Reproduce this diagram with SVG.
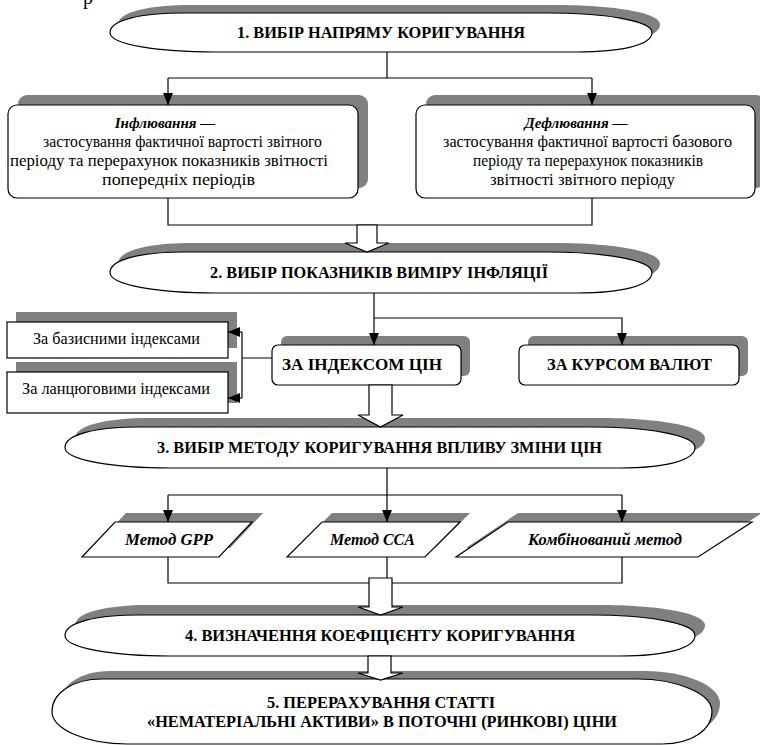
<svg xmlns="http://www.w3.org/2000/svg" width="760" height="745" viewBox="0 0 760 745" font-family="Liberation Serif, DejaVu Serif, serif">
<defs>
<style>
.sh{fill:#808080;stroke:none}
.nd{fill:#fff;stroke:#000;stroke-width:1.2}
.ln{fill:none;stroke:#000;stroke-width:1.2}
.ba{fill:#fff;stroke:#000;stroke-width:1.2}
.t{fill:#000;text-anchor:middle}
.b{font-weight:bold;font-size:16px}
.bb{font-weight:bold;font-size:17px}
.r{font-size:16px}
.bi{font-weight:bold;font-style:italic;font-size:16px}
.bh{font-weight:bold;font-style:italic;font-size:15px}
</style>
<marker id="ah" markerUnits="userSpaceOnUse" markerWidth="12" markerHeight="10" refX="12" refY="5" orient="auto">
<path d="M0,0 L12,5 L0,10 Z" fill="#000"/>
</marker>
</defs>
<rect width="760" height="745" fill="#fff"/>
<text class="t" x="88" y="4" font-size="20">р</text>

<g id="n1">
<path class="sh" transform="translate(8,-8)" d="M110,32.5 C110,20 140,13 185,13 L547,13 C602,13 652,20 652,32.5 C652,45 622,52 577,52 L215,52 C160,52 110,45 110,32.5 Z"/>
<path class="nd" d="M110,32.5 C110,20 140,13 185,13 L547,13 C602,13 652,20 652,32.5 C652,45 622,52 577,52 L215,52 C160,52 110,45 110,32.5 Z"/>
<text class="t b" x="381" y="38" textLength="288" lengthAdjust="spacingAndGlyphs">1. ВИБІР НАПРЯМУ КОРИГУВАННЯ</text>
</g>

<g id="n_infl">
<rect class="sh" x="18" y="95" width="350" height="93" rx="9"/>
<rect class="nd" x="8" y="105" width="350" height="93" rx="9"/>
<text class="t bh" x="165" y="128">Інфлювання —</text>
<text class="t r" x="182.5" y="147" textLength="279" lengthAdjust="spacingAndGlyphs">застосування фактичної вартості звітного</text>
<text class="t r" x="169" y="166" textLength="318" lengthAdjust="spacingAndGlyphs">періоду та перерахунок показників звітності</text>
<text class="t r" x="178.5" y="185" textLength="153" lengthAdjust="spacingAndGlyphs">попередніх періодів</text>
</g>

<g id="n_defl">
<rect class="sh" x="426" y="95" width="339" height="93" rx="9"/>
<rect class="nd" x="416" y="105" width="339" height="93" rx="9"/>
<text class="t bh" x="576" y="128">Дефлювання —</text>
<text class="t r" x="587.5" y="147" textLength="289" lengthAdjust="spacingAndGlyphs">застосування фактичної вартості базового</text>
<text class="t r" x="588" y="166" textLength="230" lengthAdjust="spacingAndGlyphs">періоду та перерахунок показників</text>
<text class="t r" x="582.5" y="185" textLength="185" lengthAdjust="spacingAndGlyphs">звітності звітного періоду</text>
</g>

<g id="n2">
<path class="sh" transform="translate(8,-9)" d="M110,272.5 C110,259.5 140,252 185,252 L547,252 C602,252 652,259.5 652,272.5 C652,285.5 622,293 577,293 L215,293 C160,293 110,285.5 110,272.5 Z"/>
<path class="nd" d="M110,272.5 C110,259.5 140,252 185,252 L547,252 C602,252 652,259.5 652,272.5 C652,285.5 622,293 577,293 L215,293 C160,293 110,285.5 110,272.5 Z"/>
<text class="t b" x="379" y="278" textLength="338" lengthAdjust="spacingAndGlyphs">2. ВИБІР ПОКАЗНИКІВ ВИМІРУ ІНФЛЯЦІЇ</text>
</g>

<g id="n_base">
<rect class="sh" x="16" y="312" width="221" height="36"/>
<rect class="nd" x="7" y="322" width="221" height="36"/>
<text class="t r" x="116.5" y="344" textLength="167" lengthAdjust="spacingAndGlyphs">За базисними індексами</text>
</g>

<g id="n_chain">
<rect class="sh" x="16" y="362" width="221" height="41"/>
<rect class="nd" x="7" y="372" width="221" height="41"/>
<text class="t r" x="116" y="394" textLength="188" lengthAdjust="spacingAndGlyphs">За ланцюговими індексами</text>
</g>

<g id="n_price">
<rect class="sh" x="281" y="336" width="189" height="40" rx="6"/>
<rect class="nd" x="272" y="345" width="189" height="40" rx="6"/>
<text class="t bb" x="362" y="370" textLength="160" lengthAdjust="spacingAndGlyphs">ЗА ІНДЕКСОМ ЦІН</text>
</g>

<g id="n_curr">
<rect class="sh" x="528" y="336" width="220" height="40" rx="6"/>
<rect class="nd" x="519" y="345" width="220" height="40" rx="6"/>
<text class="t bb" x="629.5" y="370" textLength="165" lengthAdjust="spacingAndGlyphs">ЗА КУРСОМ ВАЛЮТ</text>
</g>

<g id="n3">
<path class="sh" transform="translate(10,-9)" d="M65,447.5 C65,434.5 95,427 140,427 L590,427 C645,427 695,434.5 695,447.5 C695,460.5 665,468 620,468 L170,468 C115,468 65,460.5 65,447.5 Z"/>
<path class="nd" d="M65,447.5 C65,434.5 95,427 140,427 L590,427 C645,427 695,434.5 695,447.5 C695,460.5 665,468 620,468 L170,468 C115,468 65,460.5 65,447.5 Z"/>
<text class="t b" x="379.5" y="453" textLength="445" lengthAdjust="spacingAndGlyphs">3. ВИБІР МЕТОДУ КОРИГУВАННЯ ВПЛИВУ ЗМІНИ ЦІН</text>
</g>

<g id="n_gpp">
<path class="sh" transform="translate(11,-9)" d="M115,522 L252,522 L219,557 L82,557 Z"/>
<path class="nd" d="M115,522 L252,522 L219,557 L82,557 Z"/>
<text class="t bi" x="169" y="545" textLength="88" lengthAdjust="spacingAndGlyphs">Метод GPP</text>
</g>

<g id="n_cca">
<path class="sh" transform="translate(10,-9)" d="M322,522 L460,522 L425,557 L287,557 Z"/>
<path class="nd" d="M322,522 L460,522 L425,557 L287,557 Z"/>
<text class="t bi" x="372.5" y="545" textLength="85" lengthAdjust="spacingAndGlyphs">Метод CCA</text>
</g>

<g id="n_comb">
<path class="sh" transform="translate(10,-9)" d="M508,522 L752,522 L698,557 L456,557 Z"/>
<path class="nd" d="M508,522 L752,522 L698,557 L456,557 Z"/>
<text class="t bi" x="605" y="545" textLength="154" lengthAdjust="spacingAndGlyphs">Комбінований метод</text>
</g>

<g id="n4">
<path class="sh" transform="translate(10,-10)" d="M65,635.5 C65,622.5 95,615 140,615 L590,615 C645,615 695,622.5 695,635.5 C695,648.5 665,656 620,656 L170,656 C115,656 65,648.5 65,635.5 Z"/>
<path class="nd" d="M65,635.5 C65,622.5 95,615 140,615 L590,615 C645,615 695,622.5 695,635.5 C695,648.5 665,656 620,656 L170,656 C115,656 65,648.5 65,635.5 Z"/>
<text class="t b" x="380" y="641" textLength="390" lengthAdjust="spacingAndGlyphs">4. ВИЗНАЧЕННЯ КОЕФІЦІЄНТУ КОРИГУВАННЯ</text>
</g>

<g id="n5">
<path class="sh" transform="translate(8,-8)" d="M52,711.5 C52,693.5 72,679 102,679 L637,679 C677,679 712,693.5 712,711.5 C712,729.5 692,744 662,744 L127,744 C87,744 52,729.5 52,711.5 Z"/>
<path class="nd" d="M52,711.5 C52,693.5 72,679 102,679 L637,679 C677,679 712,693.5 712,711.5 C712,729.5 692,744 662,744 L127,744 C87,744 52,729.5 52,711.5 Z"/>
<text class="t b" x="381" y="708" textLength="228" lengthAdjust="spacingAndGlyphs">5. ПЕРЕРАХУВАННЯ СТАТТІ</text>
<text class="t b" x="382" y="727" textLength="470" lengthAdjust="spacingAndGlyphs">«НЕМАТЕРІАЛЬНІ АКТИВИ» В ПОТОЧНІ (РИНКОВІ) ЦІНИ</text>
</g>

<g id="connectors">
<path class="ln" d="M387,52 V78 M168,78 H592"/>
<path class="ln" marker-end="url(#ah)" d="M168,78 V105"/>
<path class="ln" marker-end="url(#ah)" d="M592,78 V105"/>
<path class="ln" d="M168,198 V225 H592 V198"/>
<path class="ln" marker-end="url(#ah)" d="M374,293 V345"/>
<path class="ln" marker-end="url(#ah)" d="M374,318 H622 V345"/>
<path class="ln" d="M272,358 H242 M242,332 V398"/>
<path class="ln" marker-end="url(#ah)" d="M242,332 H228"/>
<path class="ln" marker-end="url(#ah)" d="M242,398 H228"/>
<path class="ln" d="M387,468 V495 M168,495 H622"/>
<path class="ln" marker-end="url(#ah)" d="M168,495 V522"/>
<path class="ln" marker-end="url(#ah)" d="M387,495 V522"/>
<path class="ln" marker-end="url(#ah)" d="M622,495 V522"/>
<path class="ln" d="M168,557 V583 H369 M392,583 H622 V557 M387,557 V578"/>
<path class="ba" d="M357,225 H377 V243 H389 L367,252 L345,243 H357 Z"/>
<path class="ba" d="M369,385 H392 V415 H403 L380.5,427 L358,415 H369 Z"/>
<path class="ba" d="M369,578 H392 V607 H403 L380.5,615 L358,607 H369 Z"/>
<path class="ba" d="M368,656 H391 V673 H403 L380.5,680 L358,673 H368 Z"/>
</g>
</svg>
